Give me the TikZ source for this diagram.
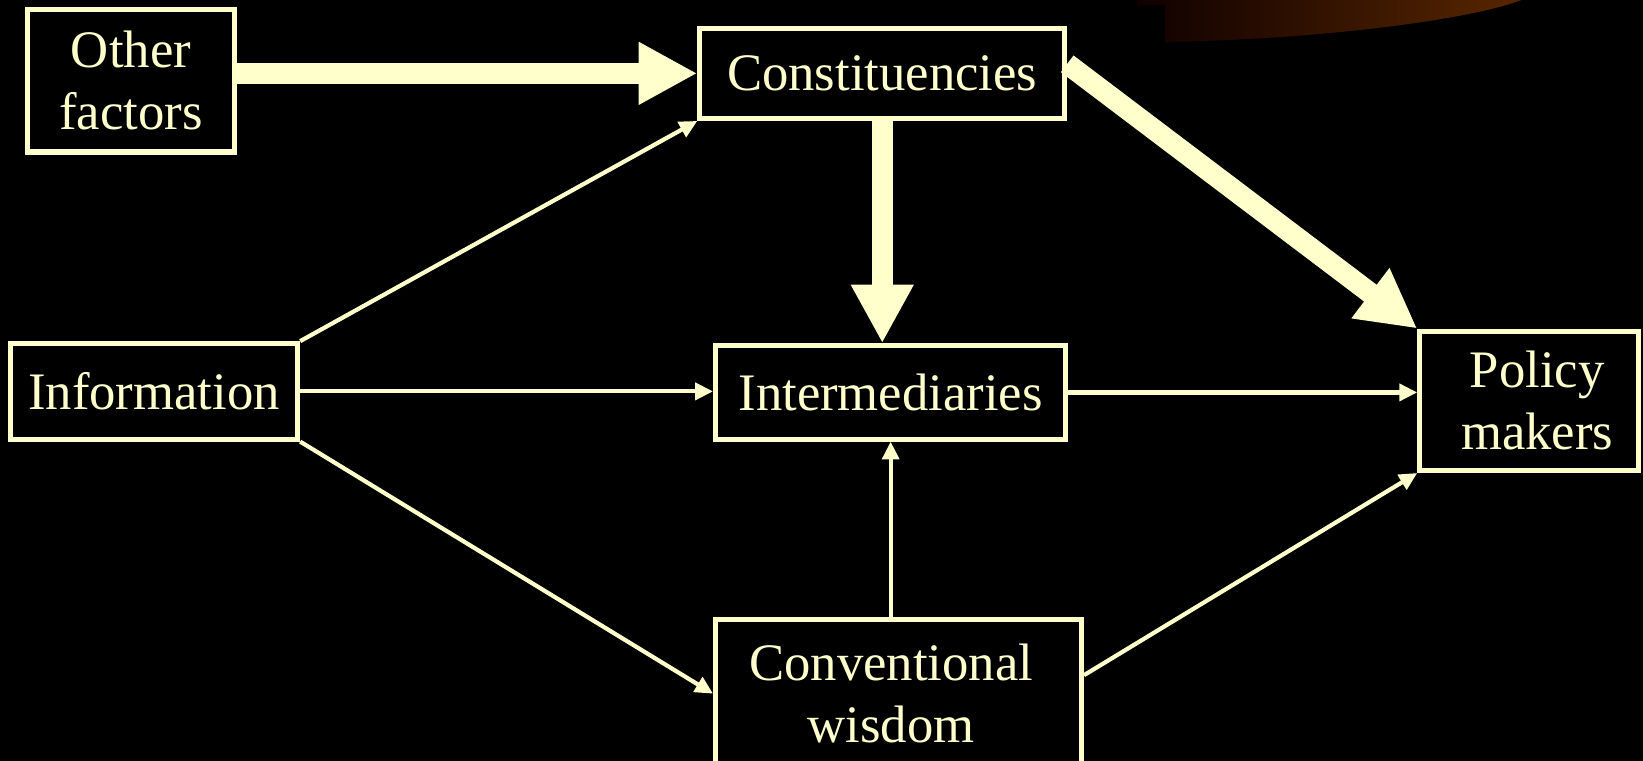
\documentclass[tikz,border=0pt]{standalone}
\usepackage{fontspec}
\setmainfont{Liberation Serif}
\usetikzlibrary{arrows.meta,calc}
\definecolor{cream}{HTML}{FFFFCC}
\definecolor{glowL}{RGB}{16,0,0}
\definecolor{glowR}{RGB}{88,38,0}
\begin{document}
\begin{tikzpicture}[x=0.01cm,y=-0.01cm,
  box/.style={draw=cream, line width=0.048cm, fill=black, text=cream, align=center,
    inner sep=0pt, font=\fontsize{14.3}{16.8}\selectfont},
  thinarrow/.style={draw=cream, line width=0.04cm, -{Triangle[length=0.17cm,width=0.16cm]}},
  thickarrow/.style={draw=cream, line width=0.2cm, -{Triangle[length=0.56cm,width=0.56cm]}}]
\useasboundingbox (0,0) rectangle (1568,726);
\clip (0,0) rectangle (1568,726);
\fill[black] (0,0) rectangle (1568,726);
% glow in the top right
\shade[left color=glowL, right color=glowR]
  (1085,0) -- (1085,5) -- (1112,5) -- (1112,40)
  .. controls (1250,38) and (1400,20) .. (1452,0) -- cycle;
% boxes
\node[box, minimum width=1.98cm, minimum height=1.36cm] (other) at (125,77) {Other\\factors};
\node[box, minimum width=3.48cm, minimum height=0.86cm] (const) at (842,70) {Constituencies};
\node[box, minimum width=2.74cm, minimum height=0.91cm] (info) at (147,373.5) {Information};
\node[box, minimum width=3.34cm, minimum height=0.89cm] (inter) at (850,374.5) {Intermediaries};
\node[box, minimum width=2.09cm, minimum height=1.33cm] (policy) at (1459.5,382.5)
  {\kern0.15cm Policy\\\kern0.15cm makers};
\node[box, minimum width=3.49cm, minimum height=1.42cm] (conv) at (857.5,662)
  {Conventional\kern0.14cm\\wisdom\kern0.14cm};
% connectors
\draw[thickarrow] (other.east |- const.west) -- (const.west);
\draw[thickarrow] (const.south) -- (const.south |- inter.north);
\draw[thickarrow] ($(const.north east)!0.4!(const.south east)$) -- (policy.north west);
\draw[thinarrow] (info.north east) -- (const.south west);
\draw[thinarrow] (info.east) -- (info.east -| inter.west);
\draw[thinarrow] (info.south east) -- (conv.west);
\draw[thinarrow] (inter.east) -- (inter.east -| policy.west);
\draw[thinarrow] (inter.south |- conv.north) -- (inter.south);
\draw[thinarrow] ($(conv.north east)!0.38!(conv.south east)$) -- (policy.south west);
\end{tikzpicture}
\end{document}
